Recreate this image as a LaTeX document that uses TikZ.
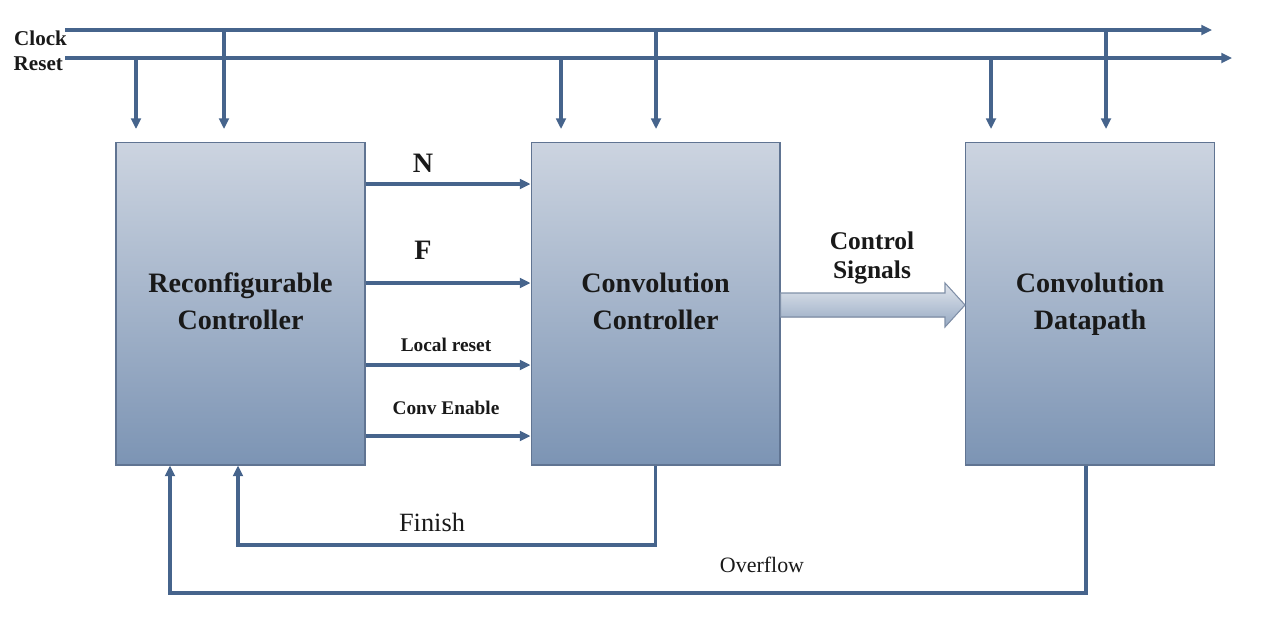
\documentclass[tikz,border=0pt]{standalone}
\usepackage{fontspec}
\setmainfont{Liberation Serif}
\usetikzlibrary{arrows.meta,calc}
\definecolor{WireClr}{RGB}{70,100,140}
\definecolor{BoxTop}{RGB}{204,212,224}
\definecolor{BoxBot}{RGB}{124,148,180}
\definecolor{BoxEdge}{RGB}{96,116,146}
\definecolor{TxtClr}{RGB}{25,25,25}

\begin{document}
\begin{tikzpicture}[x=0.02cm,y=-0.02cm,
  blk/.style={draw=BoxEdge,line width=0.6pt,top color=BoxTop,bottom color=BoxBot,
    minimum width=4.98cm,minimum height=6.46cm,inner sep=0pt,align=center,
    font=\fontsize{16}{21}\selectfont\bfseries,text=TxtClr},
  sig/.style={draw=WireClr,line width=1.8pt,-{Triangle[length=6pt,width=5.5pt]}},
  lbl/.style={text=TxtClr,inner sep=1pt}]
\useasboundingbox (0,0) rectangle (1280,619);

% blocks
\node[blk] (rc) at (240.5,303.5) {Reconfigurable\strut\\Controller\strut};
\node[blk] (cc) at (655.5,303.5) {Convolution\strut\\Controller\strut};
\node[blk] (cd) at (1090,303.5) {Convolution\strut\\Datapath\strut};

% clock and reset bus
\coordinate (clk) at (65,30);
\coordinate (rst) at (65,58);
\node[lbl,anchor=east,font=\fontsize{12}{14}\selectfont\bfseries] (clkl) at (69,38) {Clock};
\node[lbl,anchor=east,font=\fontsize{12}{14}\selectfont\bfseries] (rstl) at (65,64) {Reset};
\draw[sig] (clk) -- (1212,30);
\draw[sig] (rst) -- (1232,58);

\foreach \xr/\xc in {136/224,561/656,991/1106}{
  \draw[sig] (\xr,58) -- (\xr,129);
  \draw[sig] (\xc,30) -- (\xc,129);
}

% signals between controllers
\draw[sig] (rc.east |- 0,184) -- (cc.west |- 0,184);
\draw[sig] (rc.east |- 0,283) -- (cc.west |- 0,283);
\draw[sig] (rc.east |- 0,365) -- (cc.west |- 0,365);
\draw[sig] (rc.east |- 0,436) -- (cc.west |- 0,436);
\node[lbl,font=\fontsize{16}{18}\selectfont\bfseries] (nl) at (423,163) {N};
\node[lbl,font=\fontsize{16}{18}\selectfont\bfseries] (fl) at (423,250) {F};
\node[lbl,font=\fontsize{11}{13}\selectfont\bfseries] (lrl) at (446,345) {Local reset};
\node[lbl,font=\fontsize{11}{13}\selectfont\bfseries] (cel) at (446,408) {Conv Enable};

% control signals
\filldraw[draw=BoxEdge!80,line width=0.6pt,top color=BoxTop!60!white,bottom color=BoxBot!80!white]
  (cc.east |- 0,293) -- (945,293) -- (945,283) -- (cd.west |- 0,305)
  -- (945,327) -- (945,317) -- (cc.east |- 0,317) -- cycle;
\node[lbl,align=center,font=\fontsize{14.5}{17}\selectfont\bfseries] (csl) at (872,258) {Control\\Signals};

% feedback
\draw[sig] (cc.south) -- (cc.south |- 0,545) -- (238,545) -- (rc.south -| 238,0);
\node[lbl,font=\fontsize{15}{17}\selectfont] (fnl) at (432,522) {Finish};
\draw[sig] (cd.south -| 1086,0) -- (1086,593) -- (170,593) -- (rc.south -| 170,0);
\node[lbl,font=\fontsize{12.5}{15}\selectfont] (ofl) at (762,565) {Overflow};
\end{tikzpicture}
\end{document}
